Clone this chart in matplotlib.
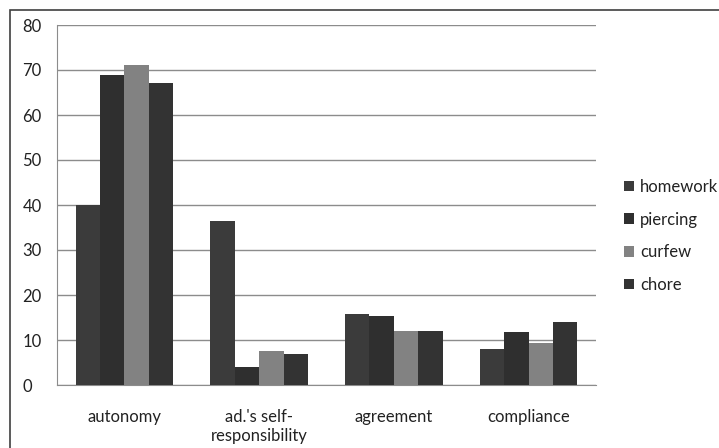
import numpy as np
import matplotlib.pyplot as plt
from matplotlib.patches import Rectangle

plt.rcParams['font.family'] = ['Lato', 'DejaVu Sans']

categories = ['autonomy', "ad.'s self-\nresponsibility", 'agreement', 'compliance']
series_names = ['homework', 'piercing', 'curfew', 'chore']
homework = [40.0, 36.4, 15.7, 8.0]
piercing = [68.9, 4.1, 15.3, 11.7]
curfew = [71.0, 7.6, 12.1, 9.3]
chore = [67.0, 7.0, 12.1, 14.1]
y_ticks = [0, 10, 20, 30, 40, 50, 60, 70, 80]

colors = ['#3b3b3b', '#2f2f2f', '#828282', '#333333']
fs = 12

W, H = 719, 448
fig = plt.figure(figsize=(W / 100, H / 100), dpi=100)
fig.patch.set_facecolor('white')

# outer chart border, runs off the right and bottom edges
fig.patches.append(Rectangle((10 / W, -0.05), 1.1, 1 - 10 / H + 0.05,
                             transform=fig.transFigure, fill=False,
                             edgecolor='#404040', linewidth=1.2))

ax = fig.add_axes([57 / W, 1 - 385 / H, (596 - 57) / W, (385 - 25) / H])

x = np.arange(len(categories))
bar_w = 0.181
values = [homework, piercing, curfew, chore]
for i, (name, vals) in enumerate(zip(series_names, values)):
    ax.bar(x + (i - 1.5) * bar_w, vals, width=bar_w, color=colors[i],
           label=name, zorder=3)

ax.set_xlim(-0.5, len(categories) - 0.5)
ax.set_ylim(0, 80)
ax.set_yticks(y_ticks)
ax.set_yticklabels([str(t) for t in y_ticks], fontsize=fs, color='#222222')
ax.set_xticks(x)
ax.set_xticklabels(categories, fontsize=fs, color='#222222', linespacing=1.25)
ax.tick_params(axis='both', length=0)
ax.tick_params(axis='x', pad=17)
ax.tick_params(axis='y', pad=25)
for lbl in ax.get_yticklabels():
    lbl.set_horizontalalignment('left')

ax.yaxis.grid(True, color='#8c8c8c', linewidth=1.0, zorder=0)
ax.set_axisbelow(True)
for side in ['top', 'right']:
    ax.spines[side].set_visible(False)
ax.spines['left'].set_color('#8c8c8c')
ax.spines['bottom'].set_color('#8c8c8c')

leg = fig.legend(loc='upper left', bbox_to_anchor=(624 / W, 1 - 179 / H),
                 frameon=False, fontsize=fs, handlelength=0.6,
                 handleheight=0.6, handletextpad=0.35, labelspacing=1.0,
                 borderaxespad=0, borderpad=0)
for t in leg.get_texts():
    t.set_color('#222222')

fig.savefig('out.png', dpi=100)
